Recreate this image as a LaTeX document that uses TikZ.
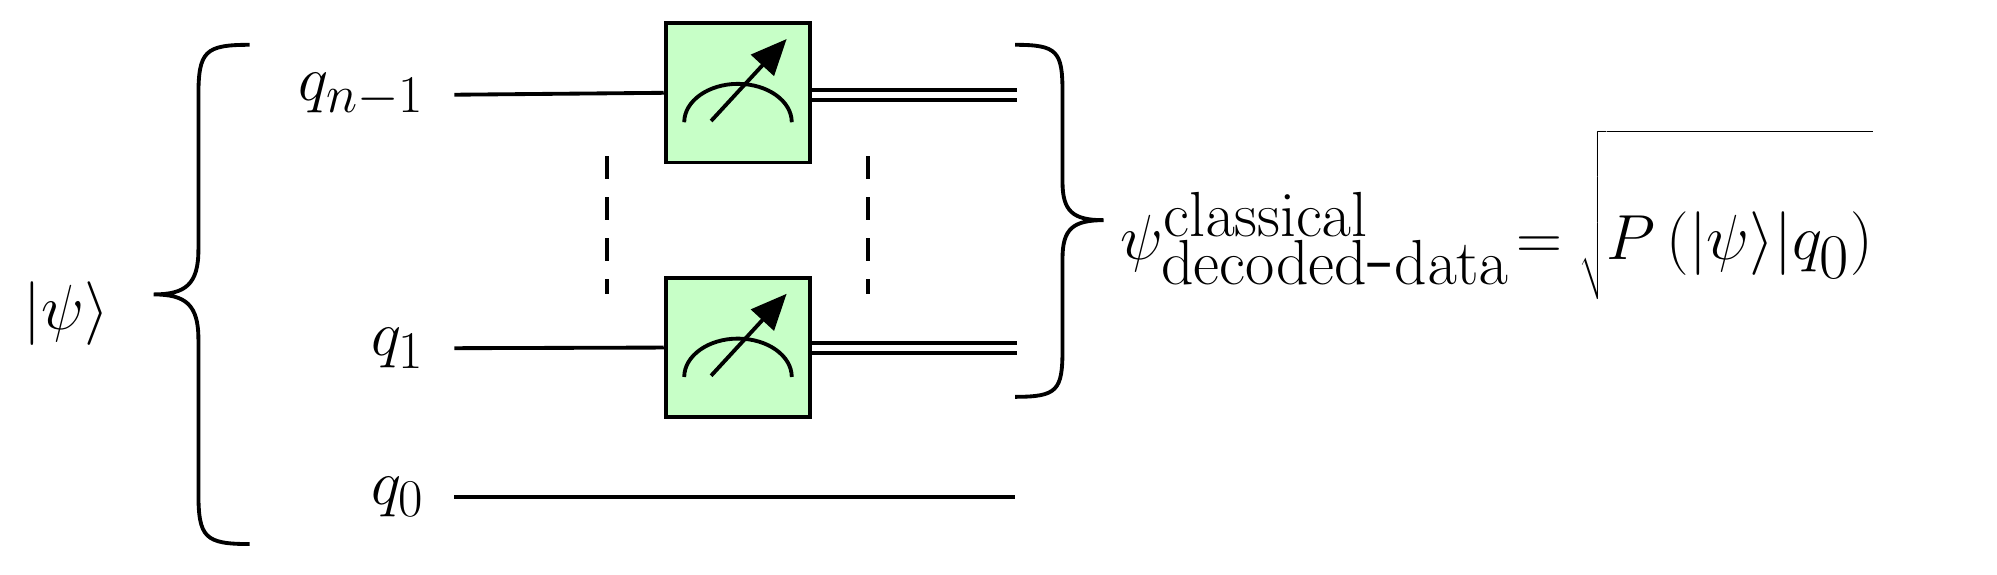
\documentclass[tikz,border=0pt]{standalone}
\usetikzlibrary{arrows.meta}
\begin{document}
\begin{tikzpicture}[x=0.5pt,y=-0.5pt,line width=1.5pt,
  meas/.style={draw,fill=green!22,minimum width=56.5pt,minimum height=54.5pt,line width=1.5pt,inner sep=0},
  lbl/.style={font=\fontsize{31}{34}\selectfont,inner sep=0}]
\useasboundingbox (0,0) rectangle (1560,449);
\node[lbl,anchor=east] (ql2) at (333,74) {$q_{n-1}$};
\node[lbl,anchor=east] (ql1) at (333,272) {$q_1$};
\node[lbl,anchor=east] (ql0) at (333,388) {$q_0$};
\node[lbl] (psi) at (52,245) {$|\psi\rangle$};
\coordinate (w2s) at (355,74); \coordinate (w2e) at (793,74);
\coordinate (w1s) at (355,272); \coordinate (w1e) at (793,272);
\coordinate (w0s) at (355,388); \coordinate (w0e) at (793,388);
\node[meas] (m2) at (576.5,72.5) {};
\node[meas] (m1) at (576.5,271.5) {};
\draw (w2s) -- (m2.west);
\draw (w1s) -- (m1.west);
\draw (w0s) -- (w0e);
\foreach \m/\y in {m2/74,m1/272}{
  \draw ([yshift=2pt]\m.east|-0,\y) -- ++(160,0);
  \draw ([yshift=-2pt]\m.east|-0,\y) -- ++(160,0);
  \draw ([shift={(-42,23)}]\m.center) arc (180:360:42 and 30);
  \draw[-{Triangle[length=14pt,width=12pt]}] ([shift={(-21,22)}]\m.center) -- ([shift={(38,-42)}]\m.center);
}
\coordinate (d1a) at (474,122); \coordinate (d1b) at (474,230);
\coordinate (d2a) at (678,122); \coordinate (d2b) at (678,230);
\draw[dash pattern=on 9pt off 7pt] (d1a) -- (d1b);
\draw[dash pattern=on 9pt off 7pt] (d2a) -- (d2b);
\coordinate (b1a) at (195,35); \coordinate (b1b) at (195,425);
\draw (b1a) .. controls (160,35) and (155,40) .. (155,75) -- (155,195)
  .. controls (155,222) and (145,230) .. (120,230)
  .. controls (145,230) and (155,238) .. (155,265) -- (155,385)
  .. controls (155,420) and (160,425) .. (b1b);
\coordinate (b2a) at (793,35); \coordinate (b2b) at (793,310);
\draw (b2a) .. controls (826,35) and (830,40) .. (830,72) -- (830,142)
  .. controls (830,165) and (838,172) .. (862,172)
  .. controls (838,172) and (830,179) .. (830,202) -- (830,273)
  .. controls (830,305) and (826,310) .. (b2b);
\node[lbl,font=\fontsize{35}{40}\selectfont,anchor=west] (eq) at (874,168) {$\psi^{\mathrm{classical}}_{\mathrm{decoded}\mbox{-}\mathrm{data}}\!=\sqrt{\rule[-0.4em]{0pt}{1.75em}P\left(|\psi\rangle|q_0\right)}$};
\end{tikzpicture}
\end{document}
